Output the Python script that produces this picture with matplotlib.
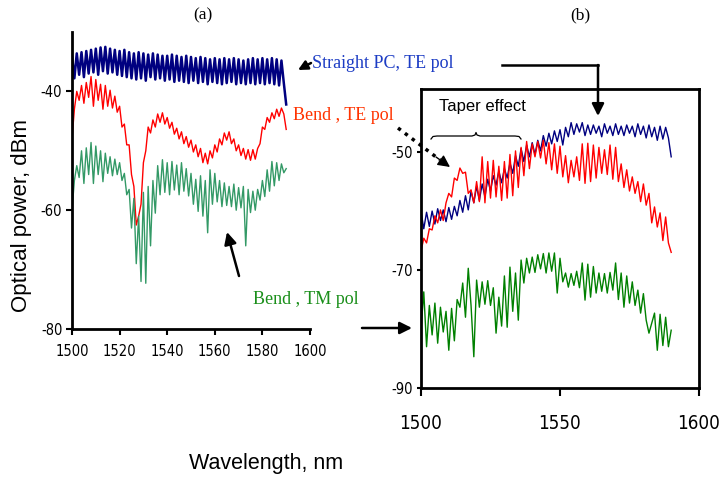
import numpy as np
import matplotlib.pyplot as plt
from matplotlib.patches import FancyArrowPatch
from matplotlib.lines import Line2D

plt.rcParams['axes.unicode_minus'] = False

# wavelength grid, nm (1 nm steps)
wl = np.arange(1500, 1591)

# (a) left panel, dBm
a_straight_te = [-34.0, -37.8, -33.6, -37.2, -33.4, -37.6,
                 -33.2, -37.0, -33.0, -36.8, -32.8, -37.2, -32.6, -36.6, -32.5, -37.0, -32.8, -36.8, -33.0, -37.2,
                 -33.2, -37.4, -33.0, -37.6, -33.4, -37.8, -33.6, -38.0, -33.4, -37.8, -33.6, -38.2, -33.8, -37.6, -33.6, -38.0, -33.8, -37.8, -34.0, -38.2,
                 -34.0, -38.0, -33.8, -38.4, -34.0, -38.2, -34.2, -38.4, -34.0, -38.6, -34.2, -38.2, -34.4, -38.6, -34.2, -38.4, -34.4, -38.8, -34.6, -38.4,
                 -34.4, -38.6, -34.6, -38.8, -34.4, -38.6, -34.6, -38.4, -34.4, -38.8, -34.6, -38.6, -34.8, -38.8, -34.6, -38.6, -34.4, -38.8, -34.6, -38.6,
                 -34.4, -38.8, -34.6, -38.6, -34.4, -38.8, -34.6, -39.0, -34.8, -38.6, -42.2]
a_bend_te = [-48.0, -43.0, -40.0, -41.5, -39.0, -42.0, -38.5, -41.0, -37.5, -42.5,
             -38.0, -41.5, -38.8, -43.0, -39.0, -42.5, -39.8, -42.8, -40.8, -43.5,
             -42.5, -46.0, -45.5, -49.0, -49.0, -54.0, -56.0, -62.5, -61.0, -59.0,
             -52.0, -50.0, -46.0, -47.0, -44.8, -46.0, -43.8, -45.2, -43.6, -45.5,
             -44.4, -46.2, -45.2, -47.2, -46.2, -48.0, -46.8, -48.8, -47.6, -49.4,
             -48.2, -50.2, -49.0, -51.0, -49.6, -52.0, -50.4, -52.2, -50.0, -51.2,
             -49.0, -50.2, -48.0, -49.0, -47.0, -48.2, -46.8, -48.8, -48.0, -50.0,
             -49.0, -50.8, -49.6, -51.4, -49.8, -51.6, -49.8, -51.4, -49.6, -48.8,
             -46.0, -46.4, -44.4, -45.2, -43.6, -44.6, -43.0, -44.2, -42.8, -43.8,
             -46.4]
a_bend_tm = [-60.0, -55.0, -52.5, -54.5, -50.0, -55.5, -49.5, -54.0, -48.6, -55.5,
             -49.2, -54.0, -50.0, -55.2, -50.4, -53.8, -51.0, -54.2, -51.4, -54.0,
             -52.0, -55.0, -53.8, -57.4, -56.5, -63.0, -58.0, -69.0, -61.0, -72.0,
             -57.0, -72.3, -56.0, -66.0, -55.0, -60.5, -52.5, -57.4, -51.5, -57.0,
             -52.0, -57.4, -51.8, -56.6, -52.4, -57.4, -52.0, -56.8, -53.0, -57.6,
             -53.8, -59.0, -54.8, -60.2, -54.2, -61.0, -55.0, -63.8, -53.2, -59.0,
             -53.8, -58.6, -55.0, -59.4, -55.4, -59.2, -56.0, -59.4, -55.6, -60.0,
             -56.2, -59.6, -56.0, -66.0, -56.5, -60.4, -56.8, -60.0, -56.5, -58.3,
             -55.0, -57.7, -53.2, -56.8, -51.8, -55.9, -52.0, -55.0, -52.2, -53.7,
             -53.0]

# (b) right panel, dBm
b_straight_te = [-60.0, -63.0, -60.2, -62.6, -60.0, -62.2,
                 -59.6, -61.6, -59.8, -61.8, -59.4, -61.4, -59.2,
                 -60.8, -58.2, -60.2, -57.4, -59.8,
                 -56.6, -58.6, -55.8, -58.2, -55.4,
                 -57.6, -54.6, -56.6, -54.0, -55.6, -53.2,
                 -55.2, -52.8, -54.4, -51.8, -53.6, -50.6, -52.4,
                 -49.4, -51.6, -48.8, -50.8, -48.4, -50.4, -48.0,
                 -49.8, -47.2, -49.0, -46.8, -48.6, -46.4, -48.2,
                 -46.2, -48.8, -45.8,
                 -47.4, -45.0, -47.0, -45.2, -46.6, -45.0, -47.2, -45.4,
                 -47.0, -45.4, -46.8, -45.6, -47.4, -45.2, -46.8, -45.6, -47.2, -45.2,
                 -47.0, -45.6, -47.2, -45.4, -46.8, -45.6, -47.4, -45.2, -47.0, -45.6,
                 -47.6, -45.4, -47.4, -45.8, -48.0, -45.6, -47.8, -45.8, -47.6, -50.8]
b_bend_te = [-66.8, -64.6, -65.4, -63.0, -63.2, -60.8, -62.0, -59.8, -61.6, -58.6,
             -57.0, -57.6, -54.4, -54.8, -52.7, -53.6, -53.4, -57.0, -56.4, -58.6,
             -55.0, -58.4, -50.8, -58.6, -51.6, -57.8, -51.4, -57.6, -52.4, -58.2,
             -51.6, -57.8, -50.4, -57.4, -49.8, -56.0, -49.2, -54.0, -48.2, -52.8,
             -48.6, -50.8, -48.2, -51.0, -48.0, -52.0, -48.4, -53.0, -48.6, -53.6,
             -49.0, -54.2, -50.6, -55.2, -51.4, -54.2, -50.8, -54.8, -48.6, -55.3,
             -48.5, -55.0, -48.8, -54.4, -49.2, -53.6, -49.6, -53.8, -48.8, -54.6,
             -49.2, -55.0, -52.0, -56.0, -53.0, -56.6, -54.2, -57.0, -55.0, -58.4,
             -55.4, -59.0, -57.0, -62.0, -59.3, -62.7, -60.3, -65.0, -61.0, -65.4,
             -67.0]
b_bend_tm = [-80.0, -73.7, -83.0, -76.0, -81.0, -75.6, -82.4, -76.3, -80.5, -77.0,
             -83.6, -76.5, -82.0, -75.0, -76.3, -72.2, -78.0, -69.7, -76.0, -84.7,
             -71.7, -76.3, -72.0, -75.8, -71.8, -76.0, -73.0, -80.7, -74.6, -79.5,
             -71.0, -79.7, -69.5, -77.0, -70.5, -78.5, -68.3, -72.2, -68.0, -70.5,
             -67.8, -70.4, -67.4, -69.8, -67.2, -70.5, -67.1, -70.2, -67.1, -73.9,
             -68.0, -72.0, -70.5, -72.9, -70.6, -72.6, -70.2, -73.0, -68.8, -75.1,
             -69.0, -74.6, -69.4, -73.9, -70.5, -73.6, -70.6, -73.9, -70.4, -73.4,
             -68.8, -75.0, -70.5, -76.3, -71.0, -75.6, -72.0, -76.0, -73.4, -77.3,
             -74.0, -78.5, -80.7, -79.0, -77.3, -83.6, -77.5, -82.8, -78.0, -83.0,
             -80.2]

a_xticks = [1500, 1520, 1540, 1560, 1580, 1600]
a_yticks = [-40, -60, -80]
b_xticks = [1500, 1550, 1600]
b_yticks = [-50, -70, -90]

W, H = 719, 480
serif = ['Liberation Serif', 'DejaVu Serif']
sans = ['Liberation Sans', 'DejaVu Sans']

fig = plt.figure(figsize=(W / 100, H / 100), dpi=100)


def fp(x, y):
    # pixel position (from top left) -> figure fraction
    return (x / W, 1 - y / H)


def narrow_labels(ax, axis, size):
    labs = ax.get_xticklabels() if axis == 'x' else ax.get_yticklabels()
    for lab in labs:
        lab.set_family('DejaVu Sans')
        lab.set_stretch('condensed')
        lab.set_fontsize(size)


# ---- panel (a)
ax1 = fig.add_axes([72 / W, 1 - 329 / H, 238 / W, 297 / H])
ax1.plot(wl, a_straight_te, color='#000080', lw=1.8)
ax1.plot(wl, a_bend_te, color='#ff0000', lw=1.0)
ax1.plot(wl, a_bend_tm, color='#339966', lw=1.0)
ax1.set_xlim(1500, 1600)
ax1.set_ylim(-80, -30)
ax1.set_xticks(a_xticks)
ax1.set_yticks(a_yticks)
for s in ['top', 'right']:
    ax1.spines[s].set_visible(False)
for s in ['left', 'bottom']:
    ax1.spines[s].set_linewidth(2)
ax1.tick_params(axis='x', width=1.5, length=4, direction='out', pad=7)
ax1.tick_params(axis='y', width=1.5, length=4, direction='out', pad=3)
narrow_labels(ax1, 'x', 10.5)
narrow_labels(ax1, 'y', 10.5)

# ---- panel (b)
ax2 = fig.add_axes([421 / W, 1 - 388 / H, 278 / W, 299 / H])
ax2.plot(wl, b_straight_te, color='#000080', lw=1.0)
ax2.plot(wl, b_bend_te, color='#ff0000', lw=1.0)
ax2.plot(wl, b_bend_tm, color='#008000', lw=1.0)
ax2.set_xlim(1500, 1600)
ax2.set_ylim(-90, -39.3)
ax2.set_xticks(b_xticks)
ax2.set_yticks(b_yticks)
for s in ax2.spines.values():
    s.set_linewidth(2)
ax2.tick_params(axis='x', width=1.5, length=6, direction='out', pad=13)
ax2.tick_params(axis='y', width=1.5, length=3, direction='out', pad=3)
narrow_labels(ax2, 'x', 13.5)
narrow_labels(ax2, 'y', 10.5)

# ---- texts
fig.text(*fp(203, 15), '(a)', family=serif, fontsize=12.5, ha='center', va='center')
fig.text(*fp(580, 15), '(b)', family=serif, fontsize=12.5, ha='center', va='center')
fig.text(*fp(312, 64), 'Straight PC, TE pol', family=serif, fontsize=13,
         color='#1c3cc4', ha='left', va='center')
fig.text(*fp(293, 115), 'Bend , TE pol', family=serif, fontsize=13,
         color='#ff3300', ha='left', va='center')
fig.text(*fp(253, 300), 'Bend , TM pol', family=serif, fontsize=13,
         color='#1a8f1a', ha='left', va='center')
fig.text(*fp(439, 107), 'Taper effect', family=sans, fontsize=12, ha='left', va='center')
fig.text(*fp(22, 216), 'Optical power, dBm', family=sans, fontsize=16,
         rotation=90, ha='center', va='center')
fig.text(*fp(266, 463), 'Wavelength, nm', family=sans, fontsize=15.5, ha='center', va='center')


# ---- arrows
def arrow(p0, p1, lw=1.8, ms=18):
    fig.add_artist(FancyArrowPatch(fp(*p0), fp(*p1), transform=fig.transFigure,
                                   arrowstyle='-|>', mutation_scale=ms, lw=lw,
                                   color='black', shrinkA=0, shrinkB=0))


# straight PC: bent arrow into panel (b)
fig.add_artist(Line2D([502 / W, 598 / W], [1 - 65 / H, 1 - 65 / H],
                      transform=fig.transFigure, color='black', lw=1.8))
arrow((598, 65), (598, 116))
# small head next to the straight PC label
arrow((311, 63), (298, 70), ms=14)
# dotted arrow from the bend TE label
fig.add_artist(Line2D([398 / W, 440 / W], [1 - 128 / H, 1 - 160 / H],
                      transform=fig.transFigure, color='black', lw=2.5,
                      linestyle=(0, (1, 1.5))))
arrow((436, 157), (450, 167), lw=1.0)
# bend TM arrows
arrow((239, 276), (227, 232))
arrow((362, 328), (412, 328))

# brace over the taper region
bx = [431, 433, 437, 472, 475, 476, 477, 480, 515, 519, 521]
by = [139, 136.5, 136, 136, 135, 132.5, 135, 136, 136, 136.5, 139]
fig.add_artist(Line2D([x / W for x in bx], [1 - y / H for y in by],
                      transform=fig.transFigure, color='black', lw=0.9))

fig.savefig('out.png', dpi=100)
